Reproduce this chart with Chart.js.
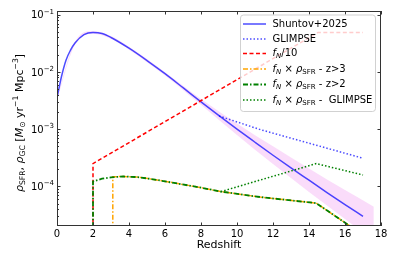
<!DOCTYPE html>
<html>
<head>
<meta charset="utf-8">
<script src="https://cdn.jsdelivr.net/npm/chart.js@4"></script>
<style>
  html, body { margin: 0; padding: 0; background: #fff; }
  canvas { display: block; }
</style>
</head>
<body>
<canvas id="sfrchart" width="397" height="264"></canvas>
<script>
// Shuntov+2025 SFR density (solid blue)
const shuntovZ = [0, 0.25, 0.5, 0.75, 1, 1.5, 2, 2.5, 3, 4, 5, 6, 7, 8, 9, 10, 11, 12, 13, 14, 15, 16, 17];
const shuntovV = [3.5e-3, 8.3e-3, 0.016, 0.024, 0.032, 0.045, 0.049, 0.047, 0.040, 0.026, 0.0158, 0.0093, 0.0053,
                  3.0e-3, 1.72e-3, 1.0e-3, 5.9e-4, 3.5e-4, 2.1e-4, 1.28e-4, 7.8e-5, 4.8e-5, 3.0e-5];

// uncertainty band around Shuntov+2025
const bandZ  = [0, 1, 2, 3, 4, 5, 6, 8, 10, 12, 14, 16, 17.6];
const bandHi = [3.7e-3, 0.0338, 0.0518, 0.0423, 0.0275, 0.0168, 0.0099, 3.37e-3, 1.26e-3, 5.0e-4, 2.05e-4, 8.6e-5, 4.4e-5];
const bandLo = [3.3e-3, 0.0302, 0.0463, 0.0378, 0.0245, 0.0148, 0.0087, 2.67e-3, 7.9e-4, 2.45e-4, 8.0e-5, 2.7e-5, 1.1e-5];

// GLIMPSE (dotted blue)
const glimpseZ = [9, 11.3, 17];
const glimpseV = [1.7e-3, 9.8e-4, 3.1e-4];

// f_N / 10 (dashed red)
const fnZ = [2, 2, 14.5, 17];
const fnV = [1e-6, 2.5e-4, 0.049, 0.049];

// f_N x rho_SFR, z>3 (orange)
const gc3Z = [3.1, 3.1, 3.7, 4.5, 5.2, 6.5, 8, 9.1, 11.3, 14.4, 16.3, 17];
const gc3V = [1e-6, 1.47e-4, 1.49e-4, 1.45e-4, 1.35e-4, 1.15e-4, 9.5e-5, 8.1e-5, 6.5e-5, 5.1e-5, 2.0e-5, 1.45e-5];

// f_N x rho_SFR, z>2 (dash-dot green)
const gc2Z = [2, 2, 2.5, 3, 3.7, 4.5, 5.2, 6.5, 8, 9.1, 11.3, 14.4, 16.3, 17];
const gc2V = [1e-6, 1.22e-4, 1.36e-4, 1.44e-4, 1.49e-4, 1.45e-4, 1.35e-4, 1.15e-4, 9.5e-5, 8.1e-5, 6.5e-5, 5.1e-5, 2.0e-5, 1.45e-5];

// f_N x rho_SFR, GLIMPSE (dotted green)
const gcGlZ = [9.1, 14.4, 17];
const gcGlV = [8.1e-5, 2.5e-4, 1.58e-4];

const xTicks = [0, 2, 4, 6, 8, 10, 12, 14, 16, 18];
const yTicks = [1e-4, 1e-3, 1e-2, 1e-1];
const yTickExp = ['\u22124', '\u22123', '\u22122', '\u22121'];

function pts(zs, vs) {
    return zs.map(function (z, i) { return { x: z, y: vs[i] }; });
}

const FONT = '"DejaVu Sans", sans-serif';

// little mathtext-ish renderer: segments with italic / sub / sup
function richWidth(ctx, segs, size) {
    let w = 0;
    segs.forEach(function (s) {
        let fs = (s.sub || s.sup) ? size * 0.7 : size;
        ctx.font = (s.it ? 'italic ' : '') + fs + 'px ' + FONT;
        w += ctx.measureText(s.t).width;
    });
    return w;
}
function drawRich(ctx, segs, x, y, size) {
    let cx = x;
    ctx.textAlign = 'left';
    ctx.textBaseline = 'middle';
    segs.forEach(function (s) {
        let fs = (s.sub || s.sup) ? size * 0.7 : size;
        ctx.font = (s.it ? 'italic ' : '') + fs + 'px ' + FONT;
        let dy = s.sub ? size * 0.28 : (s.sup ? -size * 0.38 : 0);
        ctx.fillText(s.t, cx, y + dy);
        cx += ctx.measureText(s.t).width;
    });
}

const fnRho = [{ t: 'f', it: true }, { t: 'N', it: true, sub: true }, { t: ' \u00D7 ' }, { t: '\u03C1', it: true }, { t: 'SFR', sub: true }];

const legendRows = [
    { ds: 0, label: [{ t: 'Shuntov+2025' }], y: 24 },
    { ds: 3, label: [{ t: 'GLIMPSE' }], y: 39 },
    { ds: 4, label: [{ t: 'f', it: true }, { t: 'N', it: true, sub: true }, { t: '/10' }], y: 53.5 },
    { ds: 5, label: fnRho.concat([{ t: ' - z>3' }]), y: 69 },
    { ds: 6, label: fnRho.concat([{ t: ' - z>2' }]), y: 84.5 },
    { ds: 7, label: fnRho.concat([{ t: ' -  GLIMPSE' }]), y: 100 }
];

const yTitle = [
    { t: '\u03C1', it: true }, { t: 'SFR', sub: true }, { t: ', ' },
    { t: '\u03C1', it: true }, { t: 'GC', sub: true }, { t: ' [' },
    { t: 'M', it: true }, { t: '\u2299', sub: true }, { t: ' yr' },
    { t: '\u22121', sup: true }, { t: ' Mpc' }, { t: '\u22123', sup: true }, { t: ']' }
];

const decorPlugin = {
    id: 'decor',
    afterDraw: function (chart) {
        const ctx = chart.ctx;
        const a = chart.chartArea;
        const xs = chart.scales.x, ys = chart.scales.y;
        ctx.save();

        // frame
        ctx.strokeStyle = '#333';
        ctx.lineWidth = 1;
        ctx.strokeRect(a.left + 0.5, a.top + 0.5, a.right - a.left - 1, a.bottom - a.top - 1);

        // inward ticks
        ctx.beginPath();
        xTicks.forEach(function (t) {
            const px = Math.round(xs.getPixelForValue(t)) + 0.5;
            ctx.moveTo(px, a.bottom); ctx.lineTo(px, a.bottom - 3.5);
            ctx.moveTo(px, a.top); ctx.lineTo(px, a.top + 3.5);
        });
        yTicks.forEach(function (t) {
            const py = Math.round(ys.getPixelForValue(t)) + 0.5;
            ctx.moveTo(a.left, py); ctx.lineTo(a.left + 3.5, py);
            ctx.moveTo(a.right, py); ctx.lineTo(a.right - 3.5, py);
        });
        for (let k = -5; k <= -1; k++) {
            for (let m = 2; m <= 9; m++) {
                const v = m * Math.pow(10, k);
                if (v <= ys.min || v >= ys.max) continue;
                const py = Math.round(ys.getPixelForValue(v)) + 0.5;
                ctx.moveTo(a.left, py); ctx.lineTo(a.left + 2, py);
            }
        }
        ctx.stroke();

        // y tick labels 10^k
        ctx.fillStyle = '#000';
        yTicks.forEach(function (t, i) {
            const segs = [{ t: '10' }, { t: yTickExp[i], sup: true }];
            const w = richWidth(ctx, segs, 10);
            drawRich(ctx, segs, a.left - 3 - w, ys.getPixelForValue(t) + 1, 10);
        });

        // axis titles
        ctx.font = '11px ' + FONT;
        ctx.textAlign = 'center';
        ctx.textBaseline = 'middle';
        ctx.fillText('Redshift', (a.left + a.right) / 2, 245);

        const w = richWidth(ctx, yTitle, 11);
        ctx.save();
        ctx.translate(20, 123);
        ctx.rotate(-Math.PI / 2);
        drawRich(ctx, yTitle, -w / 2, 0, 11);
        ctx.restore();

        // legend
        const lx = 240.5, ly = 15, lw = 135, lh = 96.5;
        ctx.beginPath();
        ctx.roundRect(lx, ly, lw, lh, 3);
        ctx.fillStyle = 'rgba(255,255,255,0.8)';
        ctx.fill();
        ctx.strokeStyle = 'rgba(204,204,204,0.9)';
        ctx.lineWidth = 1;
        ctx.stroke();

        legendRows.forEach(function (row) {
            const ds = chart.data.datasets[row.ds];
            ctx.save();
            ctx.strokeStyle = ds.borderColor;
            ctx.lineWidth = ds.borderWidth;
            ctx.setLineDash(ds.borderDash || []);
            ctx.beginPath();
            ctx.moveTo(243, row.y);
            ctx.lineTo(266, row.y);
            ctx.stroke();
            ctx.restore();
            ctx.fillStyle = '#000';
            drawRich(ctx, row.label, 272.5, row.y, 10);
        });

        ctx.restore();
    }
};

new Chart("sfrchart", {
    type: "line",
    data: {
        datasets: [
            {
                label: 'Shuntov+2025',
                data: pts(shuntovZ, shuntovV),
                borderColor: 'rgba(0,0,255,0.7)',
                borderWidth: 1.5,
                cubicInterpolationMode: 'monotone',
                pointRadius: 0,
                order: 5
            },
            {
                label: 'band hi',
                data: pts(bandZ, bandHi),
                borderWidth: 0,
                borderColor: 'rgba(0,0,0,0)',
                backgroundColor: 'rgba(238,130,238,0.28)',
                cubicInterpolationMode: 'monotone',
                fill: '+1',
                pointRadius: 0,
                order: 10
            },
            {
                label: 'band lo',
                data: pts(bandZ, bandLo),
                borderWidth: 0,
                borderColor: 'rgba(0,0,0,0)',
                cubicInterpolationMode: 'monotone',
                fill: false,
                pointRadius: 0,
                order: 10
            },
            {
                label: 'GLIMPSE',
                data: pts(glimpseZ, glimpseV),
                borderColor: 'rgba(0,0,255,0.7)',
                borderWidth: 1.5,
                borderDash: [1.5, 2],
                pointRadius: 0,
                tension: 0,
                order: 4
            },
            {
                label: 'fN/10',
                data: pts(fnZ, fnV),
                borderColor: 'red',
                borderWidth: 1.5,
                borderDash: [4, 2.5],
                pointRadius: 0,
                tension: 0,
                order: 3
            },
            {
                label: 'fN x rhoSFR - z>3',
                data: pts(gc3Z, gc3V),
                borderColor: 'orange',
                borderWidth: 1.5,
                borderDash: [5, 2, 1.5, 2],
                borderDashOffset: 3,
                pointRadius: 0,
                tension: 0,
                order: 2
            },
            {
                label: 'fN x rhoSFR - z>2',
                data: pts(gc2Z, gc2V),
                borderColor: 'green',
                borderWidth: 1.8,
                borderDash: [5, 2, 1.5, 2],
                pointRadius: 0,
                tension: 0,
                order: 1
            },
            {
                label: 'fN x rhoSFR - GLIMPSE',
                data: pts(gcGlZ, gcGlV),
                borderColor: 'green',
                borderWidth: 1.5,
                borderDash: [1.5, 2],
                pointRadius: 0,
                tension: 0,
                order: 1
            }
        ]
    },
    options: {
        responsive: false,
        animation: false,
        devicePixelRatio: 1,
        layout: { padding: { top: 11, right: 16, left: 0, bottom: 0 } },
        plugins: {
            legend: { display: false },
            tooltip: { enabled: false }
        },
        scales: {
            x: {
                type: 'linear',
                min: 0,
                max: 18,
                grid: { display: false, drawTicks: false, tickLength: 0 },
                border: { display: false },
                afterBuildTicks: function (s) { s.ticks = xTicks.map(function (v) { return { value: v }; }); },
                ticks: { color: '#000', font: { size: 10, family: FONT }, padding: 2, maxRotation: 0, autoSkip: false },
                afterFit: function (s) { s.height = 38; }
            },
            y: {
                type: 'logarithmic',
                min: 2.03e-5,
                max: 0.116,
                grid: { display: false, drawTicks: false, tickLength: 0 },
                border: { display: false },
                afterBuildTicks: function (s) { s.ticks = yTicks.map(function (v) { return { value: v }; }); },
                ticks: { display: false },
                afterFit: function (s) { s.width = 57; }
            }
        }
    },
    plugins: [decorPlugin]
});
</script>
</body>
</html>
